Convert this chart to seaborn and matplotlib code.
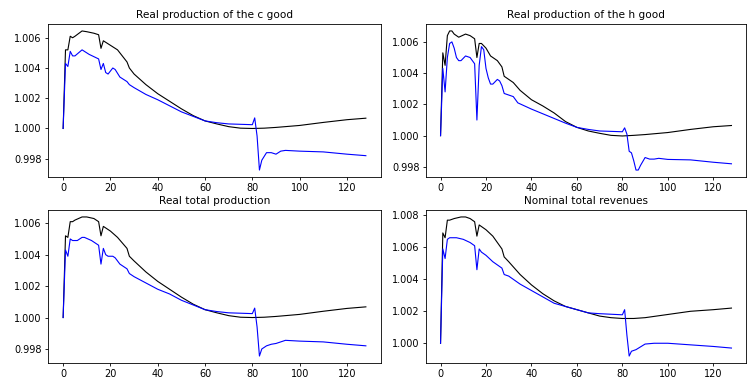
import numpy as np
import pandas as pd
import seaborn as sns
import matplotlib
matplotlib.use("Agg")
import matplotlib.pyplot as plt

# Real production of the c good
c_black_x = [0, 1, 2, 3, 4, 5, 8, 10, 13, 15, 16, 17, 18, 20, 23, 27, 28, 30, 35, 40, 45, 50, 55, 60, 65, 70, 75, 80, 85, 90, 100, 110, 120, 128]
c_black_y = [1.0000, 1.0052, 1.0052, 1.0061, 1.0060, 1.0061, 1.00645, 1.0064, 1.0063, 1.0062, 1.0053, 1.0058, 1.0057, 1.0055, 1.0052, 1.0044, 1.0040, 1.0036, 1.0029, 1.0023, 1.0018, 1.0013, 1.00085, 1.0005, 1.0003, 1.00012, 1.00002, 1.0000, 1.00002, 1.00007, 1.0002, 1.0004, 1.00058, 1.00068]
c_blue_x = [0, 1, 2, 3, 4, 5, 8, 11, 15, 16, 17, 18, 19, 20, 21, 22, 24, 26, 27, 28, 30, 35, 40, 45, 50, 55, 60, 65, 70, 80, 81, 82, 83, 84, 86, 88, 90, 92, 94, 100, 110, 120, 128]
c_blue_y = [1.0000, 1.0043, 1.0041, 1.0051, 1.0048, 1.0048, 1.0052, 1.0049, 1.0046, 1.0039, 1.0043, 1.0037, 1.0036, 1.0038, 1.0040, 1.0039, 1.0034, 1.0032, 1.0031, 1.0029, 1.0027, 1.00225, 1.0019, 1.0015, 1.0011, 1.0008, 1.0005, 1.00038, 1.0003, 1.00025, 1.0007, 0.9995, 0.99725, 0.9979, 0.9984, 0.9984, 0.9983, 0.9985, 0.99855, 0.9985, 0.99845, 0.9983, 0.9982]

# Real production of the h good
h_black_x = [0, 1, 2, 3, 4, 5, 6, 8, 11, 13, 15, 16, 17, 18, 20, 22, 25, 27, 28, 32, 35, 40, 45, 50, 55, 60, 65, 70, 75, 80, 85, 90, 100, 110, 120, 128]
h_black_y = [1.0000, 1.0053, 1.0045, 1.0064, 1.0067, 1.0067, 1.0065, 1.0063, 1.0065, 1.0064, 1.0062, 1.0050, 1.0059, 1.0059, 1.0056, 1.0051, 1.0048, 1.0044, 1.0038, 1.0034, 1.0029, 1.0023, 1.0019, 1.00145, 1.0009, 1.00053, 1.0003, 1.00015, 1.00002, 0.99998, 1.00002, 1.00007, 1.0002, 1.0004, 1.00057, 1.00065]
h_blue_x = [0, 1, 2, 3, 4, 5, 6, 7, 8, 9, 11, 13, 15, 16, 17, 18, 19, 20, 21, 22, 23, 25, 26, 27, 28, 30, 32, 34, 40, 45, 50, 55, 60, 65, 70, 80, 81, 82, 83, 84, 85, 86, 87, 88, 90, 92, 94, 96, 100, 110, 120, 128]
h_blue_y = [1.0000, 1.0043, 1.0028, 1.0050, 1.0059, 1.0060, 1.0056, 1.0050, 1.0048, 1.0048, 1.0051, 1.0050, 1.0046, 1.0010, 1.0045, 1.0057, 1.0055, 1.0043, 1.0037, 1.0033, 1.0033, 1.0036, 1.0035, 1.0032, 1.0027, 1.0026, 1.0025, 1.0021, 1.0017, 1.0014, 1.0011, 1.0008, 1.00053, 1.0004, 1.0003, 1.00025, 1.0005, 1.0001, 0.9990, 0.9989, 0.9984, 0.9978, 0.9978, 0.9981, 0.9986, 0.9985, 0.9985, 0.99855, 0.99848, 0.99845, 0.9983, 0.9982]

# Real total production
t_black_x = [0, 1, 2, 3, 4, 5, 8, 10, 13, 15, 16, 17, 18, 20, 23, 27, 28, 30, 35, 40, 45, 50, 55, 60, 65, 70, 75, 80, 85, 90, 100, 110, 120, 128]
t_black_y = [1.0000, 1.0052, 1.0051, 1.0061, 1.0061, 1.0062, 1.0064, 1.0064, 1.0063, 1.0061, 1.0052, 1.0058, 1.0057, 1.0055, 1.0051, 1.0044, 1.0039, 1.0036, 1.0029, 1.0023, 1.0018, 1.0013, 1.00085, 1.0005, 1.0003, 1.00012, 1.00002, 1.0000, 1.00002, 1.00007, 1.0002, 1.0004, 1.00058, 1.00068]
t_blue_x = [0, 1, 2, 3, 4, 6, 8, 9, 12, 15, 16, 17, 18, 19, 21, 22, 24, 26, 27, 28, 30, 35, 40, 45, 50, 55, 60, 65, 70, 80, 81, 82, 83, 84, 86, 88, 90, 94, 100, 110, 120, 128]
t_blue_y = [1.0000, 1.0043, 1.0039, 1.0050, 1.0049, 1.0049, 1.0051, 1.0051, 1.0049, 1.0046, 1.0034, 1.0044, 1.0040, 1.0039, 1.0039, 1.0038, 1.0034, 1.0032, 1.0031, 1.0028, 1.0026, 1.0022, 1.0018, 1.0015, 1.0011, 1.0008, 1.0005, 1.00038, 1.0003, 1.00025, 1.0006, 0.9994, 0.99755, 0.9980, 0.9982, 0.9983, 0.99835, 0.99855, 0.9985, 0.99845, 0.9983, 0.9982]

# Nominal total revenues
n_black_x = [0, 1, 2, 3, 4, 6, 9, 11, 13, 15, 16, 17, 18, 20, 23, 27, 28, 30, 35, 40, 45, 50, 55, 60, 65, 70, 75, 80, 85, 90, 100, 110, 120, 128]
n_black_y = [1.0000, 1.0069, 1.0066, 1.0077, 1.0077, 1.0078, 1.0079, 1.0079, 1.0078, 1.0076, 1.0067, 1.0074, 1.0073, 1.0071, 1.0067, 1.0059, 1.0054, 1.0051, 1.0043, 1.00365, 1.0031, 1.00265, 1.0023, 1.0021, 1.0019, 1.0017, 1.0016, 1.00155, 1.00155, 1.0016, 1.0018, 1.0020, 1.0021, 1.0022]
n_blue_x = [0, 1, 2, 3, 4, 7, 10, 13, 15, 16, 17, 18, 20, 23, 27, 28, 30, 35, 40, 45, 50, 55, 60, 65, 70, 80, 81, 82, 83, 84, 86, 90, 94, 100, 110, 120, 128]
n_blue_y = [1.0000, 1.0059, 1.0053, 1.0065, 1.0066, 1.0066, 1.0065, 1.0063, 1.0061, 1.0046, 1.0059, 1.0057, 1.0055, 1.0051, 1.0047, 1.0043, 1.0042, 1.0037, 1.0033, 1.0029, 1.0025, 1.0023, 1.0021, 1.0019, 1.00185, 1.00178, 1.0021, 1.0005, 0.9992, 0.9995, 0.9996, 0.99995, 1.0000, 1.0000, 0.9999, 0.9998, 0.9997]

titles = ["Real production of the c good", "Real production of the h good",
          "Real total production", "Nominal total revenues"]
series = [(c_black_x, c_black_y, c_blue_x, c_blue_y),
          (h_black_x, h_black_y, h_blue_x, h_blue_y),
          (t_black_x, t_black_y, t_blue_x, t_blue_y),
          (n_black_x, n_black_y, n_blue_x, n_blue_y)]

W, H = 750, 382
rects = [(48, 24, 381, 177), (426, 24, 746, 177),
         (48, 210, 381, 363), (426, 210, 746, 363)]

fig = plt.figure(figsize=(7.5, 3.82), dpi=100)
for (l, t, r, b), title, (bx, by, ux, uy) in zip(rects, titles, series):
    ax = fig.add_axes([l / W, 1 - b / H, (r - l) / W, (b - t) / H])
    sns.lineplot(x=bx, y=by, ax=ax, color="black", linewidth=0.8)
    sns.lineplot(x=ux, y=uy, ax=ax, color="blue", linewidth=0.8)
    ax.set_title(title, fontsize=7.6, pad=4)
    ax.tick_params(labelsize=7, length=2.5, width=0.6, pad=2)
    for s in ax.spines.values():
        s.set_linewidth(0.6)
    ax.set_xticks([0, 20, 40, 60, 80, 100, 120])
    ax.yaxis.set_major_formatter(matplotlib.ticker.FormatStrFormatter("%.3f"))

fig.savefig("out.png", dpi=100)
